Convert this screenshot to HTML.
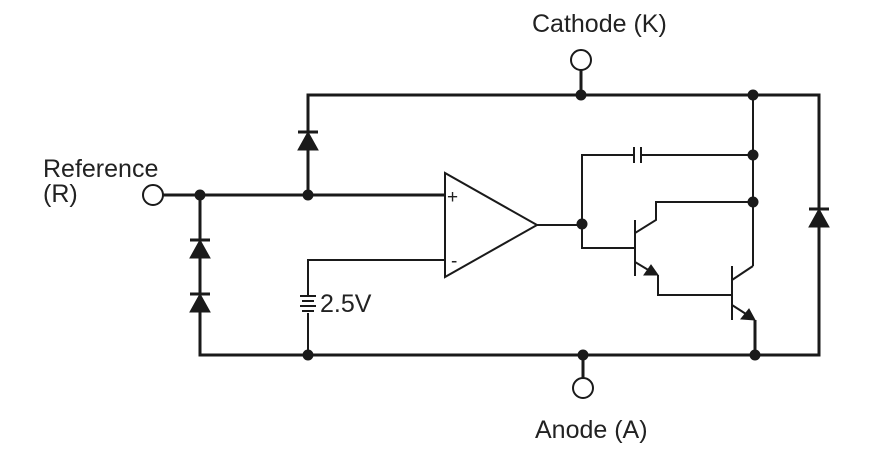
<!DOCTYPE html>
<html><head><meta charset="utf-8"><style>html,body{margin:0;padding:0;background:#fff}svg{display:block}text{font-family:"Liberation Sans",sans-serif;fill:#222}</style></head><body>
<svg width="888" height="455" viewBox="0 0 888 455" xmlns="http://www.w3.org/2000/svg">
<g stroke="#1a1a1a" fill="none" stroke-linecap="butt">
<g stroke-width="3">
<polyline points="308,195 308,95 819,95 819,355 755,355"/>
<line x1="163" y1="195" x2="445" y2="195"/>
<polyline points="200,195 200,355 755,355"/>
<line x1="581" y1="70" x2="581" y2="95"/>
<line x1="583" y1="355" x2="583" y2="378"/>
<polyline points="755,320 755,355"/>
</g>
<g stroke-width="2">
<line x1="753" y1="95" x2="753" y2="266"/>
<polyline points="753,266 732,280"/>
<line x1="537" y1="225" x2="582" y2="225"/>
<polyline points="582,248 582,155 633,155"/>
<line x1="641" y1="155" x2="753" y2="155"/>
<line x1="634" y1="147" x2="634" y2="163"/>
<line x1="641" y1="147" x2="641" y2="163"/>
<polyline points="582,225 582,248 635,248"/>
<line x1="635" y1="220" x2="635" y2="276"/>
<polyline points="635,233 656,220 656,202 753,202"/>
<polyline points="635,262 650,271"/>
<polyline points="658,275 658,295 732,295"/>
<line x1="732" y1="266" x2="732" y2="320"/>
<polyline points="732,305 746,314"/>
<polyline points="308,355 308,313"/>
<polyline points="308,297 308,260 445,260"/>
<line x1="300" y1="296" x2="316" y2="296"/>
<line x1="302" y1="301" x2="314" y2="301"/>
<line x1="300" y1="306" x2="316" y2="306"/>
<line x1="302" y1="311" x2="314" y2="311"/>
<polygon points="445,173 445,277 537,225" fill="#fff"/>
<circle cx="153" cy="195" r="10" fill="#fff"/>
<circle cx="581" cy="60" r="10" fill="#fff"/>
<circle cx="583" cy="388" r="10" fill="#fff"/>
<line x1="298" y1="132" x2="318" y2="132" stroke-width="3"/>
<line x1="190" y1="240" x2="210" y2="240" stroke-width="3"/>
<line x1="190" y1="294" x2="210" y2="294" stroke-width="3"/>
<line x1="809" y1="209" x2="829" y2="209" stroke-width="3"/>
</g>
<g fill="#1a1a1a">
<polygon points="308,132 298,150 318,150"/>
<polygon points="200,240 190,258 210,258"/>
<polygon points="200,294 190,312 210,312"/>
<polygon points="819,209 809,227 829,227"/>
<polygon points="658,275 644,275 651,265"/>
<polygon points="755,320 741,319 749,309"/>
<circle cx="200" cy="195" r="5"/><circle cx="308" cy="195" r="5"/>
<circle cx="581" cy="95" r="5"/><circle cx="753" cy="95" r="5"/>
<circle cx="753" cy="155" r="5"/><circle cx="753" cy="202" r="5"/>
<circle cx="582" cy="224" r="5"/>
<circle cx="308" cy="355" r="5"/><circle cx="583" cy="355" r="5"/><circle cx="755" cy="355" r="5"/>
</g>
</g>
<text x="532" y="32" font-size="25">Cathode (K)</text>
<text x="43" y="177" font-size="25">Reference</text>
<text x="43" y="202" font-size="25">(R)</text>
<text x="535" y="438" font-size="25">Anode (A)</text>
<text x="320" y="312" font-size="25">2.5V</text>
<text x="447" y="203" font-size="19">+</text>
<text x="451" y="267" font-size="19">-</text>
</svg>
</body></html>
